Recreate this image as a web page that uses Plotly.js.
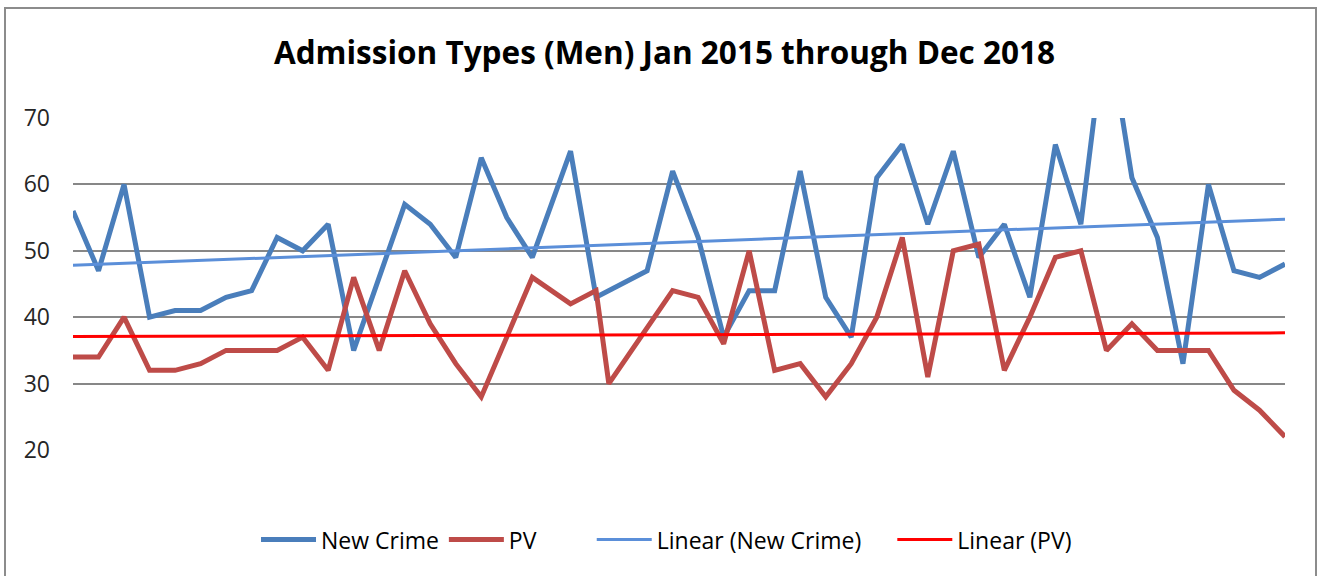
<!DOCTYPE html>
<html><head><meta charset="utf-8">
<script src="https://cdn.plot.ly/plotly-3.0.1.min.js"></script>
<style>
html,body{margin:0;padding:0;background:#fff;overflow:hidden}
#frame{position:absolute;left:4px;top:7px;width:1313px;height:620px;border:2px solid #8c8c8c;box-sizing:border-box}
#chart{position:absolute;left:0;top:0;width:1321px;height:576px}
</style></head><body>
<div id="frame"></div>
<div id="chart"></div>
<script>
// Month position (0 = Jan 2015) of each plotted point
const newCrimeMonth = [0,1,2,3,4,5,6,7,8,9,10,11,12,13,14,15,16,17,18,19.5,20.5,21.5,22.5,23.5,24.5,25.5,26.5,27.5,28.5,29.5,30.5,31.5,32.5,33.5,34.5,35.5,36.5,37.5,38.5,39.5,40.5,41.5,42.5,43.5,44.5,45.5,46.5,47.5];
const newCrime = [56,47,60,40,41,41,43,44,52,50,54,35,46,57,54,49,64,55,49,65,43,45,47,62,52,37,44,44,62,43,37,61,66,54,65,49,54,43,66,54,85,61,52,33,60,47,46,48];
const pvMonth = [0,1,2,3,4,5,6,7,8,9,10,11,12,13,14,15,16,17,18,19.5,20.5,21,23.5,24.5,25.5,26.5,27.5,28.5,29.5,30.5,31.5,32.5,33.5,34.5,35.5,36.5,37.5,38.5,39.5,40.5,41.5,42.5,43.5,44.5,45.5,46.5,47.5];
const pv = [34,34,40,32,32,33,35,35,35,37,32,46,35,47,39,33,28,37,46,42,44,30,44,43,36,50,32,33,28,33,40,52,31,50,51,32,40,49,50,35,39,35,35,35,29,26,22];
const yTicks = [20,30,40,50,60,70];
const seriesNames = ['New Crime','PV','Linear (New Crime)','Linear (PV)'];

function linFit(xs, ys){
  const n = xs.length;
  let sx=0, sy=0, sxx=0, sxy=0;
  for(let i=0;i<n;i++){sx+=xs[i];sy+=ys[i];sxx+=xs[i]*xs[i];sxy+=xs[i]*ys[i];}
  const b = (n*sxy - sx*sy)/(n*sxx - sx*sx);
  const a = (sy - b*sx)/n;
  const x0 = Math.min(...xs), x1 = Math.max(...xs);
  return {x:[x0,x1], y:[a+b*x0, a+b*x1]};
}
const ncFit = linFit(newCrimeMonth, newCrime);
const pvFit = linFit(pvMonth, pv);

const traces = [
  {x:newCrimeMonth, y:newCrime, name:seriesNames[0], mode:'lines', line:{color:'#4A7EBB', width:5}, legend:'legend'},
  {x:pvMonth, y:pv, name:seriesNames[1], mode:'lines', line:{color:'#BE4B48', width:5}, legend:'legend2'},
  {x:ncFit.x, y:ncFit.y, name:seriesNames[2], mode:'lines', line:{color:'#5B8FD9', width:3}, legend:'legend3'},
  {x:pvFit.x, y:pvFit.y, name:seriesNames[3], mode:'lines', line:{color:'#FF0000', width:3}, legend:'legend4'}
];

function legendAt(x){
  return {orientation:'h', x:x, xanchor:'left', y:-0.27, yanchor:'middle', font:{size:23, color:'#000000'}, itemwidth:55, bgcolor:'rgba(0,0,0,0)'};
}

const layout = {
  width:1321, height:576,
  margin:{l:73, r:36, t:118, b:126},
  paper_bgcolor:'rgba(0,0,0,0)', plot_bgcolor:'rgba(0,0,0,0)',
  font:{family:'Open Sans, sans-serif', color:'#262626'},
  title:{text:'<b>Admission Types (Men) Jan 2015 through Dec 2018</b>', x:0.503, xref:'container', xanchor:'center', y:0.908, yref:'container', yanchor:'middle', font:{size:31.5, color:'#000000', family:'Open Sans, sans-serif'}},
  xaxis:{range:[0,47.5], showgrid:false, zeroline:false, showticklabels:false, showline:false, ticks:''},
  yaxis:{range:[20,70], tickvals:yTicks, ticktext:yTicks.map(String), showgrid:true, gridcolor:'#878787', gridwidth:2, zeroline:false, showline:false, ticks:'', ticklabelstandoff:22, tickfont:{size:23, color:'#262626'}},
  showlegend:true,
  legend:legendAt(0.151),
  legend2:legendAt(0.306),
  legend3:legendAt(0.428),
  legend4:legendAt(0.676)
};
Plotly.newPlot('chart', traces, layout, {displayModeBar:false, staticPlot:true});
</script>
</body></html>
